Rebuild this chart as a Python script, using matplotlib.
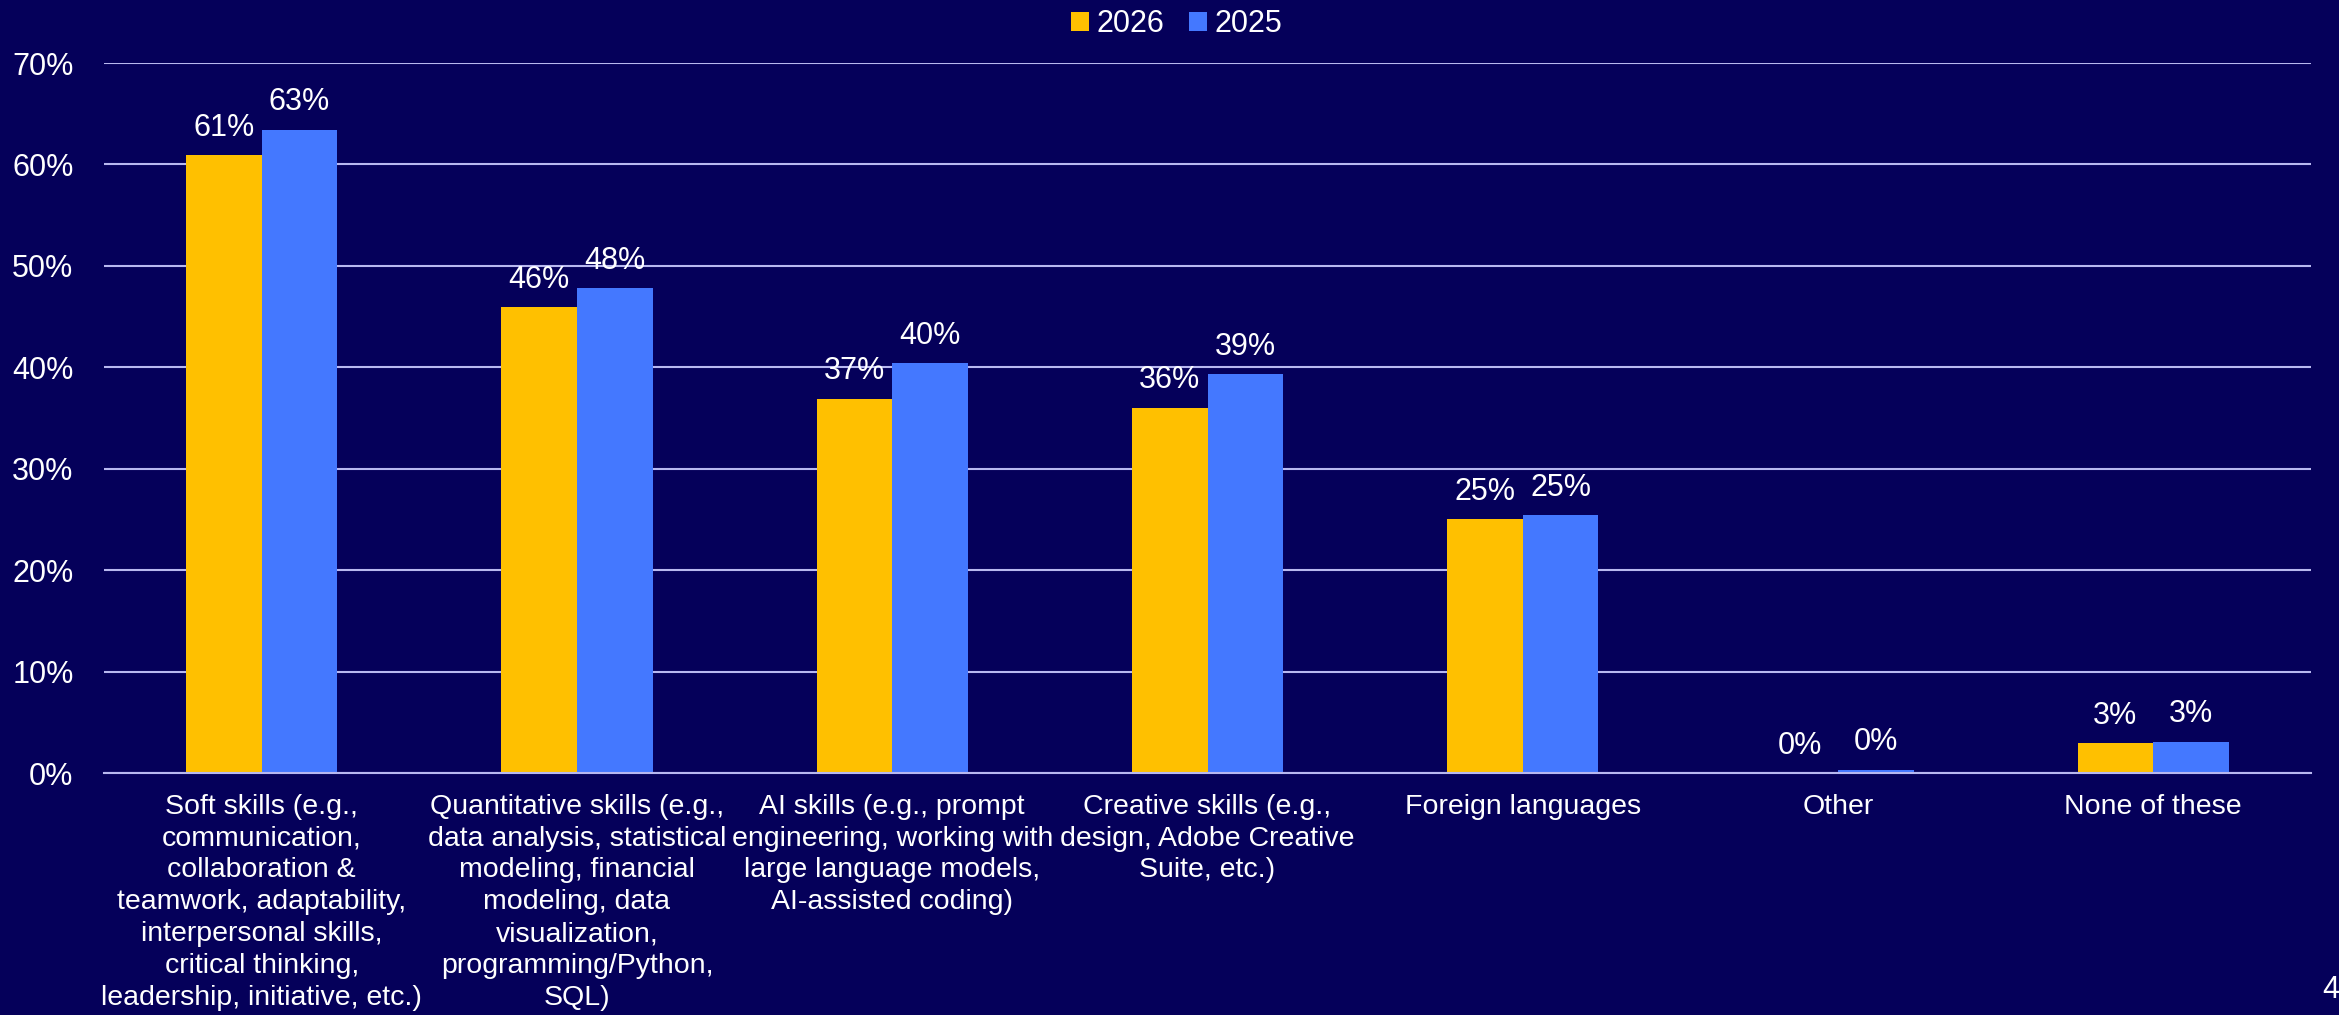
import matplotlib.pyplot as plt
import numpy as np

plt.rcParams["font.family"] = ["Liberation Sans", "DejaVu Sans"]

categories = [
    "Soft skills (e.g.,\ncommunication,\ncollaboration &\nteamwork, adaptability,\ninterpersonal skills,\ncritical thinking,\nleadership, initiative, etc.)",
    "Quantitative skills (e.g.,\ndata analysis, statistical\nmodeling, financial\nmodeling, data\nvisualization,\nprogramming/Python,\nSQL)",
    "AI skills (e.g., prompt\nengineering, working with\nlarge language models,\nAI-assisted coding)",
    "Creative skills (e.g.,\ndesign, Adobe Creative\nSuite, etc.)",
    "Foreign languages",
    "Other",
    "None of these",
]
vals_2026 = [60.9, 45.9, 36.9, 36.0, 25.0, 0.0, 2.96]
vals_2025 = [63.4, 47.8, 40.4, 39.3, 25.4, 0.3, 3.1]

bg = "#05005A"
yellow = "#FFC000"
blue = "#4478FF"
grid = "#B8B8F0"

fig = plt.figure(figsize=(23.39, 10.15), dpi=100, facecolor=bg)
ax = fig.add_axes([0.0445, 0.2384, 0.9435, 0.6995], facecolor=bg)

x = np.arange(len(categories))
w = 0.24
b1 = ax.bar(x - w / 2, vals_2026, w, color=yellow, label="2026", zorder=3)
b2 = ax.bar(x + w / 2, vals_2025, w, color=blue, label="2025", zorder=3)

for bars, vals in ((b1, vals_2026), (b2, vals_2025)):
    for bar, v in zip(bars, vals):
        ax.annotate(f"{v:.0f}%", (bar.get_x() + bar.get_width() / 2, v),
                    xytext=(0, 9), textcoords="offset points",
                    ha="center", va="bottom", color="white", fontsize=22)

ax.set_ylim(0, 70)
ax.set_xlim(-0.5, len(categories) - 0.5)
ax.set_yticks(range(0, 71, 10))
ax.set_yticklabels([f"{t}%" for t in range(0, 71, 10)])
ax.set_xticks(x)
ax.set_xticklabels(categories, fontsize=20.5, color="white", linespacing=1.29)
ax.tick_params(axis="y", colors="white", labelsize=22, length=0, pad=22)
ax.tick_params(axis="x", length=0, pad=15)
ax.grid(axis="y", color=grid, linewidth=1.5, zorder=0)
for s in ["top", "right", "left"]:
    ax.spines[s].set_visible(False)
ax.spines["bottom"].set_color(grid)
ax.spines["bottom"].set_linewidth(1.5)
ax.spines["bottom"].set_zorder(4)

fig.legend(loc="upper center", bbox_to_anchor=(0.503, 1.018), ncol=2, frameon=False,
           fontsize=22, labelcolor="white", handlelength=0.6, handleheight=0.6,
           handletextpad=0.25, columnspacing=0.8)

fig.text(2322 / 2339, 1 - 998 / 1015, "45", color="white", fontsize=22, va="baseline")

fig.savefig("out.png", facecolor=bg)
